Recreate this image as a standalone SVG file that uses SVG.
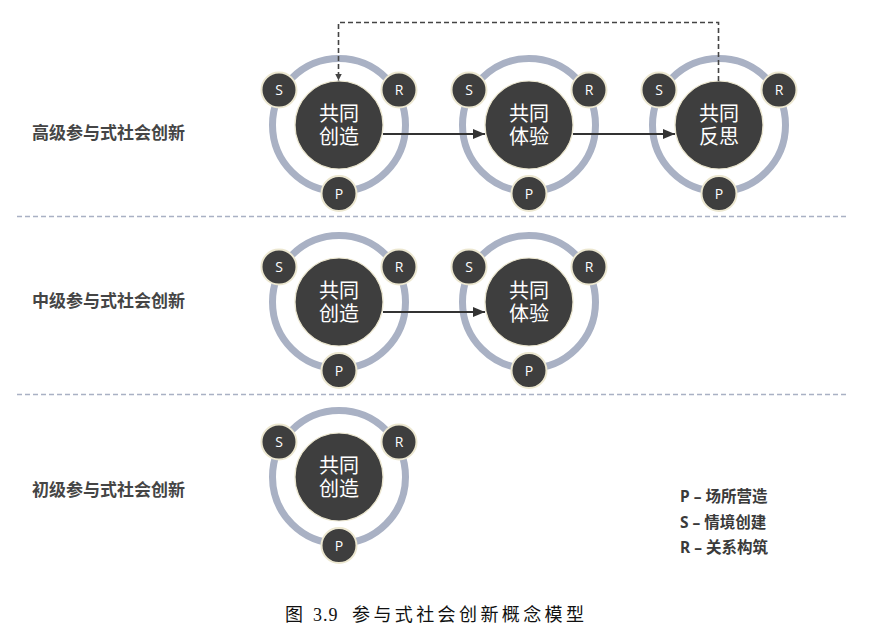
<svg xmlns="http://www.w3.org/2000/svg" width="884" height="644" viewBox="0 0 884 644">
<defs>
<style>
.ring{fill:none;stroke:#a9b1c4;stroke-width:7}
.core{fill:#3e3e3e;stroke:#ebe6cf;stroke-width:1.2}
.sat{fill:#3e3e3e;stroke:#ece7d0;stroke-width:2}
.ct{fill:#ffffff;font-family:"Liberation Sans","Noto Sans CJK SC",sans-serif;font-size:20px;text-anchor:middle}
.st{fill:#ffffff;font-family:"Open Sans","Noto Sans",sans-serif;font-size:14px;text-anchor:middle}
.lbl{fill:#454545;font-family:"Noto Sans CJK SC",sans-serif;font-size:17px;font-weight:bold}
.leg{fill:#3a3a3a;font-family:"Noto Sans","Noto Sans CJK SC",sans-serif;font-size:15.5px;font-weight:bold}
.sep{stroke:#a9b1c4;stroke-width:1.5;stroke-dasharray:5 3;fill:none}
.flow{stroke:#333333;stroke-width:2;fill:none}
.dash{stroke:#444444;stroke-width:1.6;stroke-dasharray:5 3;fill:none}
.cap{fill:#111111;font-family:"Liberation Serif","Noto Sans CJK SC",serif;font-size:18px}
</style>
<marker id="ah" viewBox="0 0 12 10" refX="12" refY="5" markerWidth="12" markerHeight="10" markerUnits="userSpaceOnUse" orient="auto">
<path d="M0,0 L12,5 L0,10 Z" fill="#333333"/>
</marker>
<marker id="ahs" viewBox="0 0 8 8" refX="8" refY="4" markerWidth="7" markerHeight="7" markerUnits="userSpaceOnUse" orient="auto">
<path d="M0,0 L8,4 L0,8 Z" fill="#444444"/>
</marker>
<g id="unit">
<circle class="ring" cx="0" cy="0" r="66.5"/>
<circle class="core" cx="0" cy="0" r="44"/>
<circle class="sat" cx="-60" cy="-35" r="17.5"/>
<circle class="sat" cx="60" cy="-35" r="17.5"/>
<circle class="sat" cx="0" cy="68.5" r="17.5"/>
<text class="st" x="-60" y="-30">S</text>
<text class="st" x="60" y="-30">R</text>
<text class="st" x="0" y="73.5">P</text>
</g>
</defs>
<rect width="884" height="644" fill="#ffffff"/>

<g id="separators">
<line class="sep" x1="17" y1="216.5" x2="846" y2="216.5"/>
<line class="sep" x1="17" y1="394.5" x2="846" y2="394.5"/>
</g>

<g id="row-labels">
<text class="lbl" x="32" y="139">高级参与式社会创新</text>
<text class="lbl" x="32" y="307">中级参与式社会创新</text>
<text class="lbl" x="32" y="496">初级参与式社会创新</text>
</g>

<g id="node-r1-create">
<use href="#unit" x="339" y="125"/>
<text class="ct" x="339" y="121">共同<tspan x="339" dy="23">创造</tspan></text>
</g>
<g id="node-r1-experience">
<use href="#unit" x="529" y="125"/>
<text class="ct" x="529" y="121">共同<tspan x="529" dy="23">体验</tspan></text>
</g>
<g id="node-r1-reflect">
<use href="#unit" x="719" y="125"/>
<text class="ct" x="719" y="121">共同<tspan x="719" dy="23">反思</tspan></text>
</g>
<g id="node-r2-create">
<use href="#unit" x="339" y="302"/>
<text class="ct" x="339" y="298">共同<tspan x="339" dy="23">创造</tspan></text>
</g>
<g id="node-r2-experience">
<use href="#unit" x="529" y="302"/>
<text class="ct" x="529" y="298">共同<tspan x="529" dy="23">体验</tspan></text>
</g>
<g id="node-r3-create">
<use href="#unit" x="339" y="477"/>
<text class="ct" x="339" y="473">共同<tspan x="339" dy="23">创造</tspan></text>
</g>

<g id="connectors">
<line class="flow" x1="383" y1="134" x2="485" y2="134" marker-end="url(#ah)"/>
<line class="flow" x1="573" y1="134" x2="675" y2="134" marker-end="url(#ah)"/>
<line class="flow" x1="383" y1="312" x2="485" y2="312" marker-end="url(#ah)"/>
<path class="dash" d="M718.5,81 V22.5 H338.5 V80.5" marker-end="url(#ahs)"/>
</g>

<g id="legend">
<text class="leg" x="680" y="502">P – 场所营造</text>
<text class="leg" x="680" y="528">S – 情境创建</text>
<text class="leg" x="680" y="553">R – 关系构筑</text>
</g>

<g id="caption">
<text class="cap" x="285" y="621">图<tspan x="313" letter-spacing="1">3.9</tspan><tspan x="352" letter-spacing="3.4">参与式社会创新概念模型</tspan></text>
</g>
</svg>
